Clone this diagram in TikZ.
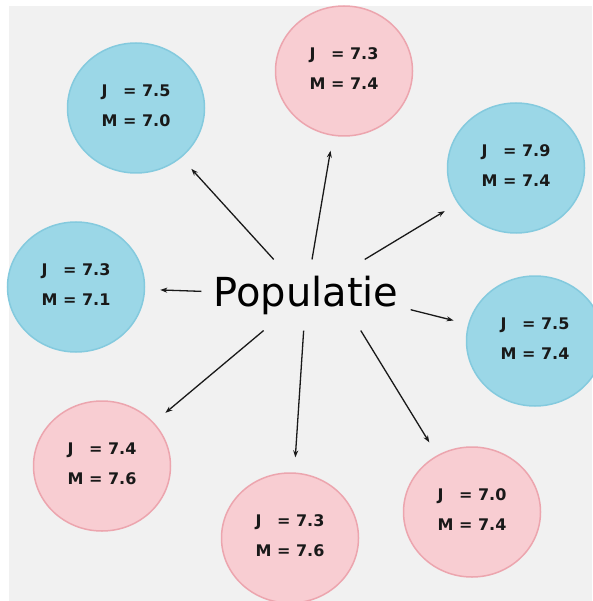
\documentclass[tikz,border=0pt]{standalone}
\usepackage{fontspec}
\setmainfont{DejaVu Sans}
\usepackage{tikz}
\usetikzlibrary{shapes.geometric,arrows.meta}

\definecolor{bgcol}{RGB}{241,241,241}
\definecolor{bluefill}{RGB}{155,215,231}
\definecolor{blueline}{RGB}{132,202,222}
\definecolor{pinkfill}{RGB}{248,205,210}
\definecolor{pinkline}{RGB}{236,165,174}
\definecolor{ink}{RGB}{25,25,25}

\newcommand{\scores}[2]{%
  \begin{tabular}{@{}l@{\ =\ }l@{}}J & #1\\[11pt] M & #2\end{tabular}}

\begin{document}
\begin{tikzpicture}[
    x=1pt, y=-1pt,
    group/.style={ellipse, minimum width=137pt, minimum height=130pt, inner sep=0pt,
                  line width=1.5pt, text=ink, font=\fontsize{16}{19}\selectfont\bfseries},
    bluegroup/.style={group, draw=blueline, fill=bluefill},
    pinkgroup/.style={group, draw=pinkline, fill=pinkfill},
    centre/.style={rectangle, inner xsep=12pt, inner ysep=16pt, text=black,
                   font=\fontsize{40}{48}\selectfont},
    arrow/.style={draw=ink, line width=1.3pt, -{Stealth[length=7pt,width=5pt]}, shorten >=15pt}
]

% page and grey backdrop
\useasboundingbox (0,0) rectangle (592,601);
\fill[white] (0,0) rectangle (592,601);
\fill[bgcol] (9,6) rectangle (592,601);

% population in the middle
\node[centre] (0) at (306,295) {Populatie};

% samples around it
\node[bluegroup] (1) at (136,108) {\scores{7.5}{7.0}};
\node[pinkgroup] (2) at (344,71)  {\scores{7.3}{7.4}};
\node[bluegroup] (3) at (516,168) {\scores{7.9}{7.4}};
\node[bluegroup] (4) at (535,341) {\scores{7.5}{7.4}};
\node[pinkgroup] (5) at (472,512) {\scores{7.0}{7.4}};
\node[pinkgroup] (6) at (290,538) {\scores{7.3}{7.6}};
\node[pinkgroup] (7) at (102,466) {\scores{7.4}{7.6}};
\node[bluegroup] (8) at (76,287)  {\scores{7.3}{7.1}};

% draw a sample from the population
\draw[arrow] (0) -- (1);
\draw[arrow] (0) -- (2);
\draw[arrow] (0) -- (3);
\draw[arrow] (0.-8) -- (4);
\draw[arrow] (0.-33) -- (5);
\draw[arrow] (0) -- (6);
\draw[arrow] (0) -- (7);
\draw[arrow] (0) -- (8);

\end{tikzpicture}
\end{document}
